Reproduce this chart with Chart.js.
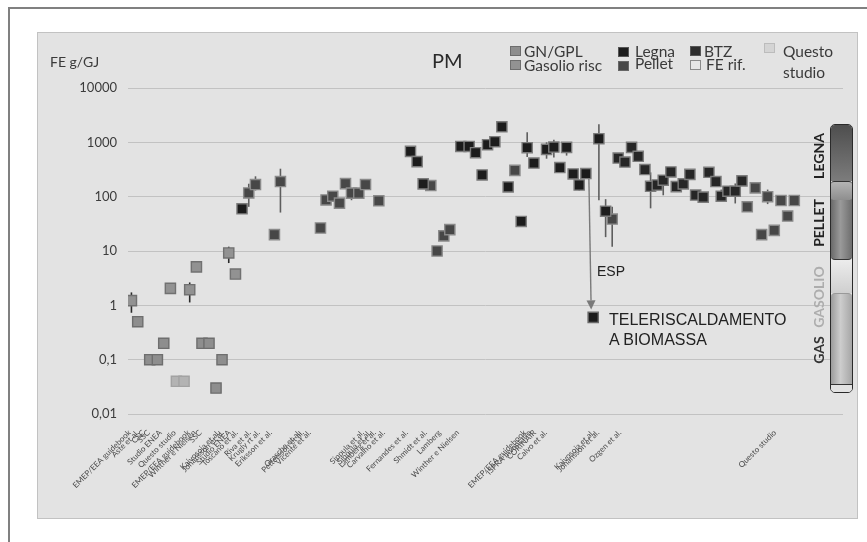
<!DOCTYPE html>
<html>
<head>
<meta charset="utf-8">
<script src="https://cdn.jsdelivr.net/npm/chart.js@4/dist/chart.umd.min.js"></script>
<style>
    body { margin: 0; background: #fff; width: 867px; height: 542px; overflow: hidden; position: relative; }
    #frame { position: absolute; left: 8px; top: 7px; width: 900px; height: 600px; border-left: 2px solid #808080; border-top: 2px solid #808080; }
    #panel { position: absolute; left: 37px; top: 32px; width: 819px; height: 485px; background: #e3e3e3; border: 1px solid #c2c2c2; }
    #chart { position: absolute; left: 0; top: 0; }
    .t { position: absolute; white-space: nowrap; font-family: Lato, 'Open Sans', sans-serif; color: #3a3a3a; }
    .lg { font-size: 15.5px; line-height: 16px; }
    .sq { position: absolute; width: 9px; height: 8px; border: 1px solid #6d6d6d; }
    .rot { transform: translate(-50%, -50%) rotate(-90deg); font-size: 14px; line-height: 16px; font-weight: bold; }
    .ann { position: absolute; white-space: nowrap; font-family: 'Liberation Sans', 'DejaVu Sans', sans-serif; color: #222; }
    #bar { position: absolute; left: 830px; top: 124px; width: 21px; height: 267px; border: 1.5px solid #2a2a2a; border-radius: 5px; overflow: hidden; }
    #bar div { position: absolute; left: 0; width: 100%; }
</style>
</head>
<body>
<div id="frame"></div>
<div id="panel"></div>
<canvas id="chart" width="867" height="542"></canvas>

<div class="t" style="left:50px; top:53px; font-size:14px;">FE g/GJ</div>
<div class="t" style="left:432px; top:48px; font-size:20px; color:#2a2a2a;">PM</div>

<div class="sq" style="left:510px; top:46px; background:#8e8e8e;"></div>
<div class="t lg" style="left:524px; top:43px;">GN/GPL</div>
<div class="sq" style="left:510px; top:60px; background:#929292;"></div>
<div class="t lg" style="left:524px; top:57px;">Gasolio risc</div>
<div class="sq" style="left:618px; top:47px; background:#1c1c1c; border-color:#555;"></div>
<div class="t lg" style="left:635px; top:43px;">Legna</div>
<div class="sq" style="left:618px; top:61px; background:#474747; border-color:#666;"></div>
<div class="t lg" style="left:635px; top:55px;">Pellet</div>
<div class="sq" style="left:690px; top:46px; background:#2e2e2e; border-color:#555;"></div>
<div class="t lg" style="left:704px; top:43px;">BTZ</div>
<div class="sq" style="left:690px; top:60px; background:#e6e6e6; border-color:#8a8a8a;"></div>
<div class="t lg" style="left:706px; top:56px;">FE rif.</div>
<div class="sq" style="left:764px; top:43px; background:#d4d4d4; border-color:#bcbcbc;"></div>
<div class="t lg" style="left:783px; top:43px;">Questo</div>
<div class="t lg" style="left:783px; top:64px;">studio</div>

<div id="bar">
    <div style="top:0; height:56px; background:linear-gradient(to bottom,#4e4e4e,#7c7c7c);"></div>
    <div style="top:56px; height:18px; background:linear-gradient(to bottom,#b4b4b4,#8e8e8e); border-top:1px solid #333; border-bottom:1px solid #333; border-radius:3px;"></div>
    <div style="top:75px; height:59px; background:linear-gradient(to right,#6a6a6a,#9a9a9a 45%,#6e6e6e); border-bottom:1.5px solid #333; border-radius:0 0 4px 4px;"></div>
    <div style="top:135px; height:33px; background:linear-gradient(to bottom,#ececec,#cfcfcf);"></div>
    <div style="top:168px; height:91px; background:linear-gradient(to right,#9c9c9c,#cdcdcd 45%,#a6a6a6); border-top:1px solid #999; border-radius:4px 4px 0 0;"></div>
    <div style="top:259px; height:9px; background:#e2e2e2; border-top:1.5px solid #333;"></div>
</div>
<div class="t rot" style="left:819px; top:156px; color:#222;">LEGNA</div>
<div class="t rot" style="left:819px; top:223px; color:#222;">PELLET</div>
<div class="t rot" style="left:819px; top:297px; color:#adadad;">GASOLIO</div>
<div class="t rot" style="left:819px; top:350px; color:#333;">GAS</div>

<div class="ann" style="left:597px; top:263px; font-size:14px;">ESP</div>
<div class="ann" style="left:609px; top:310px; font-size:16px; line-height:20px;">TELERISCALDAMENTO<br>A BIOMASSA</div>

<script>
// y axis (log), Italian decimal comma
const yTickValues = [0.01, 0.1, 1, 10, 100, 1000, 10000];
const yTickLabels = ['0,01', '0,1', '1', '10', '100', '1000', '10000'];

// reference labels on the x axis (position along the axis, name)
const refPos = [0.22, 1.34, 2.18, 2.88, 4.56, 6.51, 8.47, 9.31, 10.15, 12.67, 13.23, 14.21, 15.19, 17.01, 18.27, 19.95,
    24.0, 24.42, 25.4, 32.82, 33.8, 34.5, 35.76, 38.98, 41.64, 43.6, 46.12, 55.5, 56.2, 56.9, 58.44, 65.02, 65.72, 68.8, 90.48];
const refNames = ['EMEP/EEA guidebook', 'Aste et al.', 'CSC', 'SSC', 'Studio ENEA', 'Questo studio', 'EMEP/EEA guidebook',
    'Winther e Nielsen', 'SSC', 'Kaivosoja et al.', 'Johansson et al.', 'Studio ENEA', 'Toscano et al.', 'Riva et al.',
    'Krugly rt al.', 'Eriksson et al.', 'Orasche et al.', 'Pettersson et al.', 'Vicente et al.', 'Sippula et al.',
    'Sippula et al.', 'Lamberg et al.', 'Carvalho et al.', 'Fernandes et al.', 'Shmidt et al.', 'Lamberg',
    'Winther e Nielsen', 'EMEP/EEA guidebook', 'ISPRA Inventario', 'CORINAIR', 'Calvo et al.', 'Kaivosoja et al.',
    'Johansson et al.', 'Ozgen et al.', 'Questo studio'];

// emission factors FE (g/GJ) per fuel
const gnPos = [1.36, 3.04, 4.11, 5.0, 10.35, 11.33, 12.31, 13.15];
const gnFE = [0.5, 0.1, 0.1, 0.2, 0.2, 0.2, 0.03, 0.1];

const gasolioPos = [0.48, 5.93, 8.63, 9.57, 14.09, 15.03];
const gasolioFE = [1.22, 2.05, 1.94, 5.1, 9.2, 3.76];
const gasolioErr = [[0, 0.73, 1.73], [2, 1.13, 2.64], [4, 6, 12]];

const questoPos = [6.77, 7.84];
const questoFE = [0.04, 0.04];

const legnaPos = [15.95, 39.51, 40.44, 41.28, 46.55, 47.71, 48.61, 49.53, 50.29, 51.31, 52.29, 53.17, 54.99, 55.83,
    56.77, 58.54, 59.56, 60.40, 61.34, 62.26, 63.10, 64.04, 65.86, 66.80];
const legnaFE = [59.8, 681, 441, 172, 841, 841, 645, 251, 903, 1025, 1932, 151, 35, 796,
    416, 742, 818, 343, 807, 262, 164, 266, 1164, 54];
const legnaErr = [[13, 535, 1540], [15, 500, 1000], [16, 525, 1110], [18, 570, 900], [20, 130, 200], [22, 86, 2150], [23, 18, 90]];

const pelletPos = [16.89, 17.83, 20.48, 21.32, 26.92, 27.70, 28.64, 29.58, 30.42, 31.26, 32.28, 33.22, 35.08, 42.35,
    43.23, 44.17, 45.01, 54.11, 67.72, 86.61, 87.73, 88.62, 89.46, 90.39, 91.33, 92.26, 93.19];
const pelletFE = [117, 167, 20, 190, 26.5, 87, 102, 76, 174, 116, 116, 167, 84, 160,
    10, 19, 24.7, 305, 38.7, 65, 145, 20, 100, 24, 85, 44, 85];
const pelletErr = [[0, 65, 173], [1, 130, 237], [3, 51, 327], [9, 86, 140], [18, 12, 65], [22, 73, 135]];

const btzPos = [68.56, 69.50, 70.43, 71.36, 72.30, 73.09, 74.02, 74.86, 75.93, 76.68, 77.66, 78.59, 79.39, 80.45,
    81.25, 82.23, 82.97, 83.91, 84.93, 85.87];
const btzFE = [514, 434, 807, 553, 316, 155, 164, 201, 285, 153, 172, 257, 107, 98,
    281, 190, 102, 126, 126, 195];
const btzErr = [[5, 61, 280], [7, 106, 240], [9, 122, 190], [16, 85, 135], [18, 75, 175]];

// district heating with biomass + ESP
const teleriscPos = [65.06];
const teleriscFE = [0.6];
const espSource = 21; // legna point the arrow starts from

const pts = (pos, fe) => pos.map((x, i) => ({ x: x, y: fe[i] }));

function series(label, pos, fe, bg, border, err, errColor) {
    return {
        label: label,
        data: pts(pos, fe),
        pointStyle: 'rect',
        pointRadius: 7.2,
        pointHoverRadius: 7.2,
        borderWidth: 1.4,
        backgroundColor: bg,
        borderColor: border,
        err: err || [],
        errColor: errColor || '#5e5e5e'
    };
}

// ---------------------------------------------------------
// PLUGINS: error whiskers + ESP arrow
// ---------------------------------------------------------
const errorBars = {
    id: 'errorBars',
    beforeDatasetsDraw(chart) {
        const { ctx, scales: { x, y } } = chart;
        chart.data.datasets.forEach(ds => {
            ctx.save();
            ctx.strokeStyle = ds.errColor;
            ctx.lineWidth = 1.6;
            ds.err.forEach(([i, lo, hi]) => {
                const px = x.getPixelForValue(ds.data[i].x);
                ctx.beginPath();
                ctx.moveTo(px, y.getPixelForValue(hi));
                ctx.lineTo(px, y.getPixelForValue(lo));
                ctx.stroke();
            });
            ctx.restore();
        });
    }
};

const espArrow = {
    id: 'espArrow',
    afterDatasetsDraw(chart) {
        const { ctx, scales: { x, y } } = chart;
        const x0 = x.getPixelForValue(legnaPos[espSource]) + 3;
        const y0 = y.getPixelForValue(legnaFE[espSource]) + 5;
        const x1 = x.getPixelForValue(teleriscPos[0]) - 2;
        const y1 = y.getPixelForValue(teleriscFE[0]) - 8;
        const len = Math.hypot(x1 - x0, y1 - y0);
        const ux = (x1 - x0) / len, uy = (y1 - y0) / len;
        const head = 9, half = 4.5;
        ctx.save();
        ctx.strokeStyle = '#7a7a7a';
        ctx.fillStyle = '#7a7a7a';
        ctx.lineWidth = 1.4;
        ctx.beginPath();
        ctx.moveTo(x0, y0);
        ctx.lineTo(x1 - ux * head, y1 - uy * head);
        ctx.stroke();
        ctx.beginPath();
        ctx.moveTo(x1, y1);
        ctx.lineTo(x1 - ux * head - uy * half, y1 - uy * head + ux * half);
        ctx.lineTo(x1 - ux * head + uy * half, y1 - uy * head - ux * half);
        ctx.closePath();
        ctx.fill();
        ctx.restore();
    }
};

const tickFont = "Lato, 'Open Sans', sans-serif";

new Chart(document.getElementById('chart'), {
    type: 'scatter',
    data: {
        datasets: [
            series('Teleriscaldamento', teleriscPos, teleriscFE, '#1c1c1c', '#6a6a6a'),
            series('Legna', legnaPos, legnaFE, '#1c1c1c', '#7c7c7c', legnaErr),
            series('BTZ', btzPos, btzFE, '#262626', '#7c7c7c', btzErr),
            series('Pellet', pelletPos, pelletFE, '#474747', '#8a8a8a', pelletErr),
            series('Questo studio', questoPos, questoFE, '#b3b3b3', '#a2a2a2'),
            series('Gasolio risc', gasolioPos, gasolioFE, '#929292', '#717171', gasolioErr, '#2a2a2a'),
            series('GN/GPL', gnPos, gnFE, '#8e8e8e', '#6e6e6e')
        ]
    },
    options: {
        responsive: false,
        animation: false,
        layout: { padding: { left: 0, right: 24, top: 88, bottom: 28 } },
        plugins: { legend: { display: false }, tooltip: { enabled: false } },
        scales: {
            x: {
                type: 'linear',
                min: 0,
                max: 100,
                grid: { display: false },
                border: { display: false },
                afterBuildTicks: axis => { axis.ticks = refPos.map(v => ({ value: v })); },
                afterFit: axis => { axis.height = 100; },
                ticks: {
                    autoSkip: false,
                    minRotation: 45,
                    maxRotation: 45,
                    padding: 6,
                    color: '#4a4a4a',
                    font: { family: tickFont, size: 8 },
                    callback: (v, i) => refNames[i]
                }
            },
            y: {
                type: 'logarithmic',
                min: 0.01,
                max: 10000,
                border: { display: false },
                grid: { color: '#c2c2c2', lineWidth: 1, drawTicks: false },
                afterBuildTicks: axis => { axis.ticks = yTickValues.map(v => ({ value: v, major: true })); },
                afterFit: axis => { axis.width = 128; },
                ticks: {
                    padding: 11,
                    color: '#3c3c3c',
                    font: { family: tickFont, size: 13 },
                    callback: (v, i) => yTickLabels[i]
                }
            }
        }
    },
    plugins: [errorBars, espArrow]
});
</script>
</body>
</html>
